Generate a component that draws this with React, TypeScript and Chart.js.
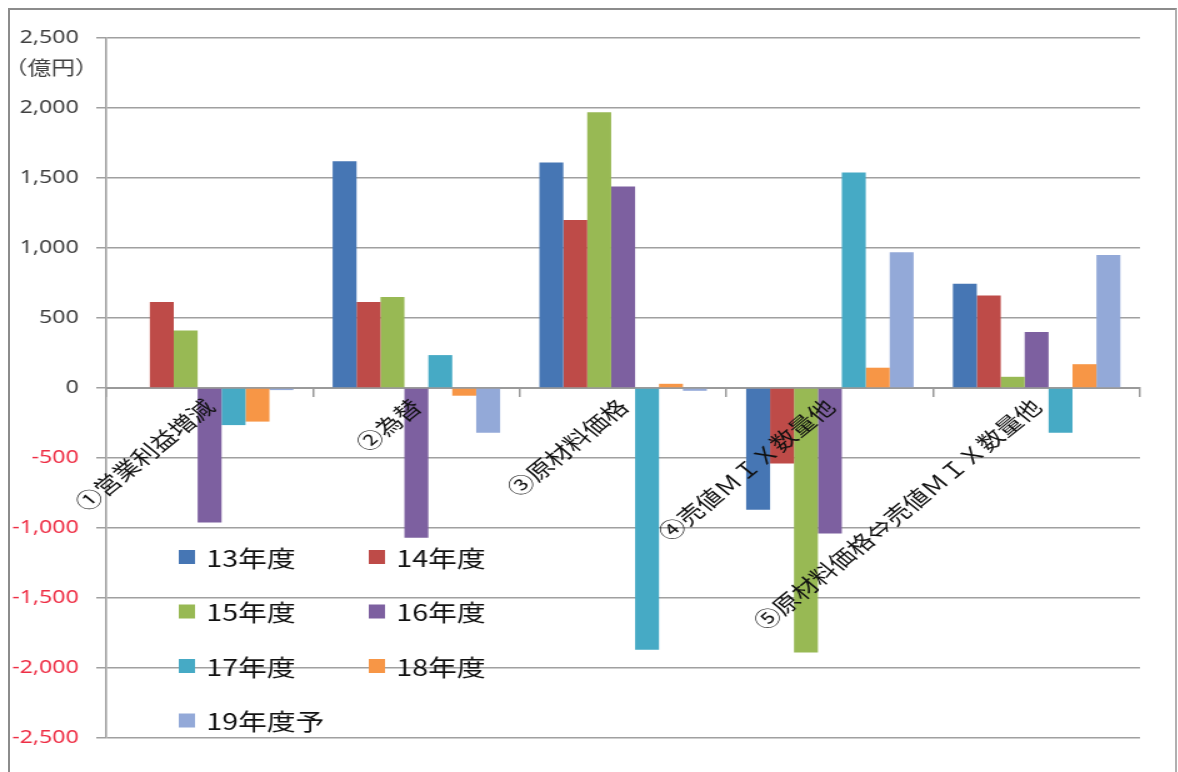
import React, { useEffect, useRef } from "react";
import { Chart, registerables } from "chart.js";

Chart.register(...registerables);

const categories = [
  "①営業利益増減",
  "②為替",
  "③原材料価格",
  "④売値ＭＩＸ数量他",
  "⑤原材料価格⇔売値ＭＩＸ数量他",
];

const seriesLabels = ["13年度", "14年度", "15年度", "16年度", "17年度", "18年度", "19年度予"];

const fy13 = [0, 1620, 1610, -870, 745];
const fy14 = [615, 615, 1200, -540, 660];
const fy15 = [410, 650, 1970, -1890, 80];
const fy16 = [-960, -1070, 1440, -1040, 400];
const fy17 = [-265, 235, -1870, 1540, -320];
const fy18 = [-240, -55, 30, 145, 170];
const fy19 = [-15, -320, -20, 970, 950];

const seriesColors = ["#4676B4", "#BE4B48", "#98B954", "#7D60A0", "#46AAC5", "#F79646", "#93A9D8"];

const yMin = -2500;
const yMax = 2500;
const yStep = 500;
const unitLabel = "（億円）";

const CJK = "'Noto Sans CJK JP', 'DejaVu Sans', sans-serif";
const NUM = "'Noto Sans', 'DejaVu Sans', sans-serif";

// the picture is horizontally stretched; the canvas is drawn narrower and widened by CSS
const STRETCH = 1.25;
const CANVAS_W = 932;
const CANVAS_H = 762;

const legendPlugin = {
  id: "insideLegend",
  afterDraw(chart: any) {
    const { ctx, chartArea } = chart;
    ctx.save();
    ctx.font = `23px ${CJK}`;
    ctx.textBaseline = "middle";
    ctx.textAlign = "left";
    chart.data.datasets.forEach((ds: any, i: number) => {
      const col = i % 2;
      const row = Math.floor(i / 2);
      const bx = chartArea.left + 58 + col * 152;
      const cy = chartArea.top + 519 + row * 54.5;
      ctx.fillStyle = ds.backgroundColor;
      ctx.fillRect(bx, cy - 7, 13, 14);
      ctx.fillStyle = "#111";
      ctx.fillText(ds.label, bx + 22, cy + 1);
    });
    ctx.restore();
  },
};

const unitPlugin = {
  id: "unitLabel",
  afterDraw(chart: any) {
    const { ctx, chartArea } = chart;
    ctx.save();
    ctx.font = `19px ${CJK}`;
    ctx.fillStyle = "#404040";
    ctx.textBaseline = "middle";
    ctx.textAlign = "left";
    ctx.fillText(unitLabel, chartArea.left - 82, chartArea.top + 30);
    ctx.restore();
  },
};

export default function App() {
  const ref = useRef<HTMLCanvasElement>(null);

  useEffect(() => {
    if (!ref.current) return;
    const series = [fy13, fy14, fy15, fy16, fy17, fy18, fy19];
    const chart = new Chart(ref.current, {
      type: "bar",
      data: {
        labels: categories,
        datasets: series.map((d, i) => ({
          label: seriesLabels[i],
          data: d,
          backgroundColor: seriesColors[i],
          borderWidth: 0,
          categoryPercentage: 0.81,
          barPercentage: 1.0,
        })),
      },
      options: {
        responsive: false,
        animation: false,
        layout: { padding: { left: 0, top: 28, right: 28, bottom: 34 } },
        plugins: {
          legend: { display: false },
          tooltip: { enabled: false },
        },
        scales: {
          x: {
            position: { y: 0 } as any,
            grid: {
              offset: true,
              drawOnChartArea: false,
              drawTicks: true,
              tickLength: 8,
              color: "#9a9a9a",
              lineWidth: 1.5,
            },
            border: { display: true, color: "#9a9a9a", width: 2 },
            ticks: {
              autoSkip: false,
              minRotation: 45,
              maxRotation: 45,
              padding: -2,
              color: "#111",
              font: { size: 21, family: CJK },
              z: 1,
            } as any,
          },
          y: {
            min: yMin,
            max: yMax,
            afterFit: (scale: any) => {
              scale.width = 77;
            },
            grid: {
              color: "#a0a0a0",
              lineWidth: 1.5,
              tickLength: 8,
            },
            border: { display: true, color: "#a0a0a0", width: 1.6 },
            ticks: {
              stepSize: yStep,
              padding: 14,
              font: { size: 18.5, family: NUM },
              color: (c: any) => (c.tick && c.tick.value < 0 ? "#EE2E45" : "#404040"),
              callback: (v: any) => Number(v).toLocaleString("en-US"),
            },
          },
        },
      },
      plugins: [legendPlugin, unitPlugin],
    });
    return () => chart.destroy();
  }, []);

  return (
    <div
      style={{
        position: "absolute",
        left: 8,
        top: 8,
        width: 1165,
        height: 762,
        borderTop: "2px solid #8c8c8c",
        borderLeft: "2px solid #8c8c8c",
        borderRight: "2px solid #b0b0b0",
        background: "#fff",
        overflow: "hidden",
      }}
    >
      <canvas
        ref={ref}
        width={CANVAS_W}
        height={CANVAS_H}
        style={{
          display: "block",
          transform: `scaleX(${STRETCH})`,
          transformOrigin: "0 0",
        }}
      />
    </div>
  );
}
